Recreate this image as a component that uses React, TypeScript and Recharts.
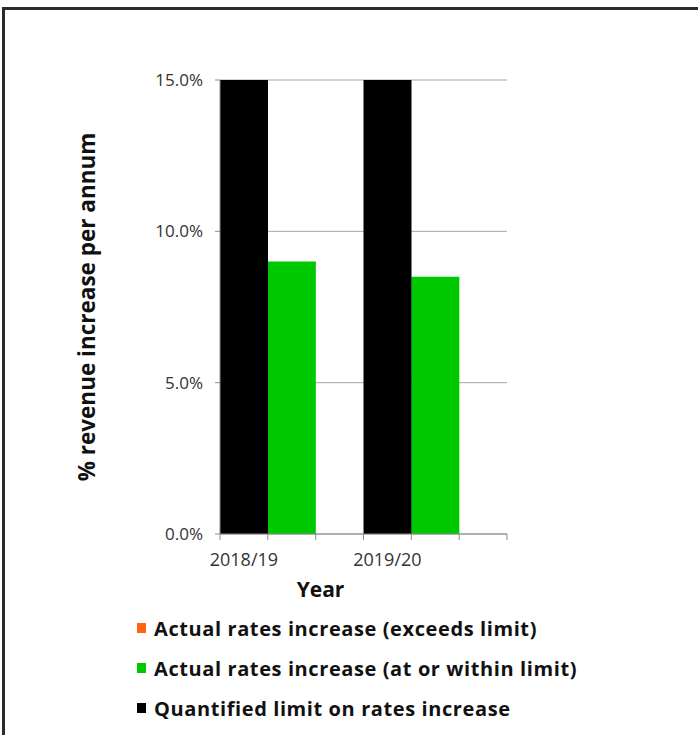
import { BarChart, Bar, XAxis, YAxis, CartesianGrid, Legend } from 'recharts';

const YEARS = ['2018/19', '2019/20'];
const LIMIT = [15.0, 15.0];
const ACTUAL_WITHIN = [9.0, 8.5];
const ACTUAL_EXCEEDS = [0, 0];
const Y_TICKS = [0, 5, 10, 15];

const SERIES_NAMES = {
  exceeds: 'Actual rates increase (exceeds limit)',
  within: 'Actual rates increase (at or within limit)',
  limit: 'Quantified limit on rates increase',
};
const LEGEND_ORDER = [SERIES_NAMES.exceeds, SERIES_NAMES.within, SERIES_NAMES.limit];

const COLORS = {
  exceeds: '#ff6414',
  within: '#00c800',
  limit: '#000000',
};

// each year gets three slots like the Excel sheet: limit, actual, empty gap
const slots = YEARS.flatMap((year, i) => [
  { key: `${year}-limit`, label: year, limit: LIMIT[i], within: 0, exceeds: 0 },
  { key: `${year}-actual`, label: '', limit: 0, within: ACTUAL_WITHIN[i], exceeds: ACTUAL_EXCEEDS[i] },
  { key: `${year}-gap`, label: '', limit: 0, within: 0, exceeds: 0 },
]);

const FONT = '"Open Sans", "DejaVu Sans", sans-serif';
const AXIS_GREY = '#8c8c8c';
const WIDTH = 698;
const HEIGHT = 735;
const MARGIN = { top: 80, right: 191, bottom: 152, left: 0 };
const Y_AXIS_W = 220;
const PLOT_W = WIDTH - MARGIN.right - Y_AXIS_W;
const BAND = PLOT_W / slots.length;

const formatPct = (v: number) => `${v.toFixed(1)}%`;

const SlotTick = ({ x, y, payload }: any) => {
  const slot = slots[payload.index];
  const axisY = y - 18;
  const last = payload.index === slots.length - 1;
  return (
    <g>
      <line x1={x - BAND / 2} x2={x - BAND / 2} y1={axisY} y2={axisY + 6} stroke={AXIS_GREY} />
      {last && <line x1={x + BAND / 2} x2={x + BAND / 2} y1={axisY} y2={axisY + 6} stroke={AXIS_GREY} />}
      {slot.label && (
        <text x={x} y={y} dy="0.78em" textAnchor="middle" fontSize={18} fill="#333" fontFamily={FONT}>
          {slot.label}
        </text>
      )}
    </g>
  );
};

const YearLabel = ({ viewBox }: any) => (
  <text
    x={viewBox.x + viewBox.width / 2 - 43}
    y={viewBox.y + 48}
    dy="0.71em"
    textAnchor="middle"
    fontSize={21}
    fontWeight={700}
    fill="#111"
    fontFamily={FONT}
  >
    Year
  </text>
);

const LegendList = ({ payload }: any) => {
  const items = [...(payload || [])].sort(
    (a: any, b: any) => LEGEND_ORDER.indexOf(a.value) - LEGEND_ORDER.indexOf(b.value),
  );
  return (
    <div style={{ fontFamily: FONT }}>
      {items.map((item: any) => (
        <div key={item.value} style={{ display: 'flex', alignItems: 'center', height: 40 }}>
          <span style={{ width: 9, height: 10, background: item.color, marginRight: 8, display: 'inline-block' }} />
          <span style={{ fontSize: 20, letterSpacing: 0.6, fontWeight: 700, color: '#111' }}>{item.value}</span>
        </div>
      ))}
    </div>
  );
};

export default function App() {
  return (
    <div style={{ position: 'absolute', left: 0, top: 0, width: WIDTH, height: HEIGHT, overflow: 'hidden' }}>
      <div
        style={{
          position: 'absolute',
          left: 2,
          top: 7,
          width: WIDTH - 2,
          height: HEIGHT - 7,
          borderTop: '3px solid #2b2b2b',
          borderLeft: '3px solid #2b2b2b',
          boxSizing: 'border-box',
        }}
      />
      <BarChart width={WIDTH} height={HEIGHT} data={slots} margin={MARGIN} barCategoryGap={0} barGap={0}>
        <CartesianGrid vertical={false} stroke="#a6a6a6" />
        <XAxis
          dataKey="key"
          interval={0}
          height={49}
          tickLine={false}
          tickSize={6}
          tickMargin={12}
          stroke={AXIS_GREY}
          tick={<SlotTick />}
          label={{ value: 'Year', content: <YearLabel /> }}
        />
        <YAxis
          width={Y_AXIS_W}
          domain={[0, 15]}
          ticks={Y_TICKS}
          tickFormatter={formatPct}
          stroke={AXIS_GREY}
          tickSize={5}
          tickMargin={12}
          tick={{ fontSize: 17, fill: '#333', fontFamily: FONT }}
          label={{
            value: '% revenue increase per annum',
            angle: -90,
            position: 'insideLeft',
            offset: 87,
            style: { textAnchor: 'middle', fontSize: 22.5, fontWeight: 700, fill: '#111', fontFamily: FONT },
          }}
        />
        <Legend
          layout="vertical"
          align="center"
          verticalAlign="middle"
          content={<LegendList />}
          wrapperStyle={{ left: 137, top: 608, width: 555 }}
        />
        <Bar dataKey="exceeds" name={SERIES_NAMES.exceeds} stackId="s" fill={COLORS.exceeds} isAnimationActive={false} />
        <Bar dataKey="within" name={SERIES_NAMES.within} stackId="s" fill={COLORS.within} isAnimationActive={false} />
        <Bar dataKey="limit" name={SERIES_NAMES.limit} stackId="s" fill={COLORS.limit} isAnimationActive={false} />
      </BarChart>
    </div>
  );
}
